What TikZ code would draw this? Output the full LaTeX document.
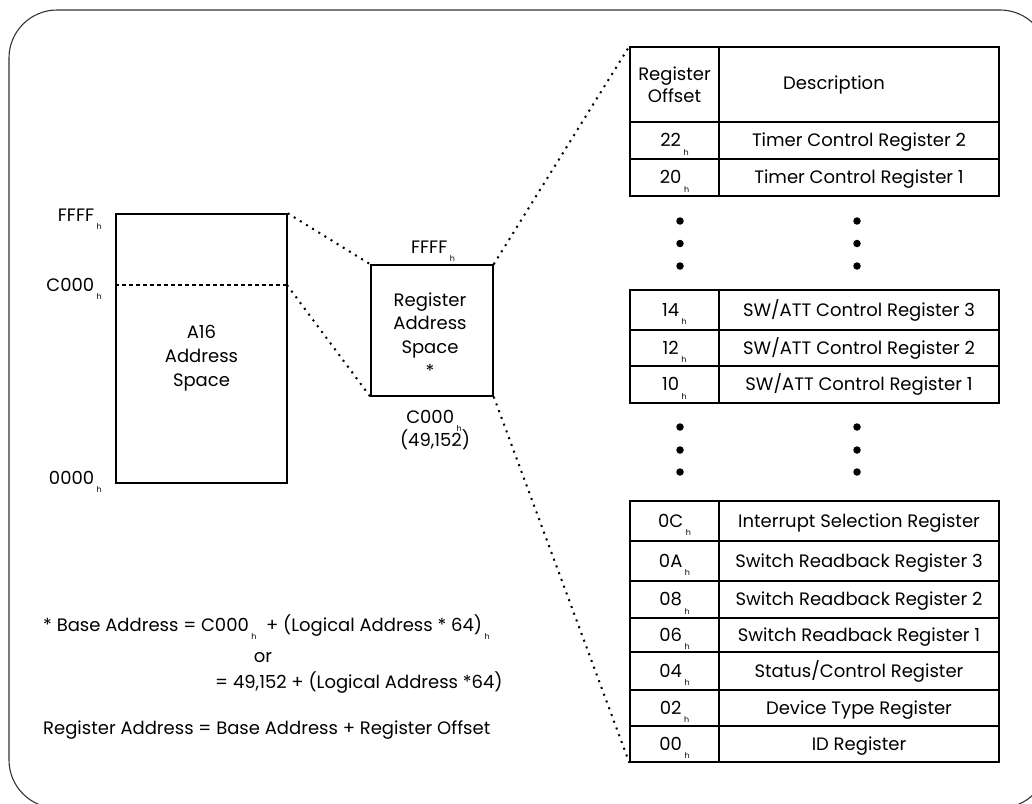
\documentclass[tikz,border=0pt]{standalone}
\usepackage{fontspec}
\setmainfont{Poppins}
% hexadecimal suffix: a small "h" hanging below the baseline
\newcommand\hx{\kern2.5pt\raisebox{-8.5pt}[0pt][0pt]{\fontsize{8}{8}\selectfont h}}
\begin{document}
\begin{tikzpicture}[x=1pt,y=-1pt,
  txt/.style={font=\fontsize{18}{21}\selectfont, inner sep=0},
  ml/.style={font=\fontsize{18}{23.8}\selectfont, align=center, inner sep=0},
  box/.style={draw, line width=1.4pt, inner sep=0},
  cell/.style={draw, line width=1.4pt, inner sep=0, font=\fontsize{18}{21}\selectfont,
    text height=12.6pt, text depth=0pt},
  link/.style={line width=2pt, dash pattern=on 2pt off 5.2pt},
  cut/.style={line width=1.5pt, dash pattern=on 4pt off 3pt},
  bullet/.style={circle, fill, inner sep=0, minimum size=7.5pt}]
\useasboundingbox (0,0) rectangle (1032,803);

% outer frame
\begin{scope}
  \clip (0,0) rectangle (1032,803);
  \draw[line width=1.1pt, black!80, rounded corners=48pt] (9,10) rectangle (1048,808);
\end{scope}

% A16 address space
\node[box, minimum width=171pt, minimum height=269pt] (a16) at (201.5,348.5) {};
\coordinate (c000) at (287,285);
\draw[cut] (a16.west |- c000) -- (c000);
\node[ml] (a16t) at (201.5,358) {A16\\Address\\Space};
\node[txt, anchor=base east] (lffff) at (102,221) {FFFF\hx};
\node[txt, anchor=base east] (lc000) at (102,291) {C000\hx};
\node[txt, anchor=base east] (l0000) at (102,484) {0000\hx};

% register address space
\node[box, minimum width=122pt, minimum height=131pt] (ras) at (432,330.5) {};
\node[ml] (rast) at (430,335) {Register\\Address\\Space\\*};
\node[txt, anchor=base] (rffff) at (433,253) {FFFF\hx};
\node[txt, anchor=base] (rc000) at (434,423) {C000\hx};
\node[txt, anchor=base] (rdec) at (435,446) {(49,152)};

% register table: header
\node[box, minimum width=89pt, minimum height=75pt, font=\fontsize{18}{22}\selectfont,
  align=center] (offhdr) at (674.5,84.5) {Register\\Offset};
\node[box, minimum width=280pt, minimum height=75pt, font=\fontsize{18}{21}\selectfont]
  (deschdr) at (859,84.5) {Description\hspace*{50pt}};

% register table: rows (top/bottom/offset/description)
\foreach \t/\b/\o/\d in {
  122/159/22/Timer Control Register 2,
  159/196/20/Timer Control Register 1,
  290/330/14/SW\slash ATT Control Register 3,
  330/366/12/SW\slash ATT Control Register 2,
  366/403/10/SW\slash ATT Control Register 1,
  501/541/0C/Interrupt Selection Register,
  541/581/0A/Switch Readback Register 3,
  581/618/08/Switch Readback Register 2,
  618/652/06/Switch Readback Register 1,
  652/690/04/Status\slash Control Register,
  690/726/02/Device Type Register,
  726/762/00/ID Register}{
  \node[cell, minimum width=89pt, minimum height={\b-\t}]
    (off\o) at (674.5,{(\t+\b)/2}) {\o\hx};
  \node[cell, minimum width=280pt, minimum height={\b-\t}]
    (desc\o) at (859,{(\t+\b)/2}) {\d};
}

% continuation marks
\foreach \y [count=\i] in {221,243.5,266}{
  \node[bullet] (ga\i) at (680,\y) {};
  \node[bullet] (gb\i) at (857,\y) {};
}
\foreach \y [count=\i] in {427,450,472}{
  \node[bullet] (gc\i) at (680,\y) {};
  \node[bullet] (gd\i) at (857,\y) {};
}

% expansion lines
\draw[link] (a16.north east) -- (ras.north west);
\draw[link] (c000) -- (ras.south west);
\draw[link] (ras.north east) -- (offhdr.north west);
\draw[link] (ras.south east) -- (off00.south west);

% address formulas
\node[txt, anchor=base west] (f1) at (43,631)
  {* Base Address = C000\hx\ \ + (Logical Address * 64)\hx};
\node[txt, anchor=base] (f2) at (263,662) {or};
\node[txt, anchor=base west] (f3) at (215,688) {= 49,152 + (Logical Address *64)};
\node[txt, anchor=base west] (f4) at (43,734)
  {Register Address = Base Address + Register Offset};
\end{tikzpicture}
\end{document}
